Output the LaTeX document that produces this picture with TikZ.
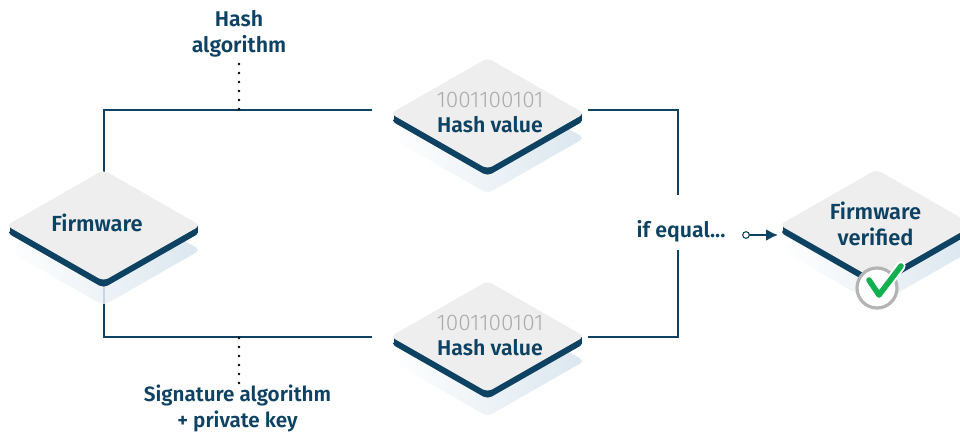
\documentclass[tikz,border=0pt]{standalone}
\usepackage{fontspec}
\setmainfont{Fira Sans}[UprightFont=* Medium,BoldFont=* SemiBold]
\newfontfamily\lightfont{Fira Sans}[UprightFont=* Light]
\usetikzlibrary{arrows.meta}
\definecolor{navy}{HTML}{0E4263}
\definecolor{face}{HTML}{EEEEEE}
\definecolor{shade}{HTML}{D5E2EC}
\definecolor{okgreen}{HTML}{12B04F}
\definecolor{ringgrey}{HTML}{B4B4B4}
\definecolor{digit}{HTML}{ABABAB}
\tikzset{
  x=0.75pt,y=-0.75pt,
  label text/.style={text=navy,font=\fontsize{16}{19.5}\selectfont\bfseries,align=center,inner sep=0pt},
  digits/.style={text=digit,font=\lightfont\fontsize{17}{18}\selectfont,inner sep=0pt},
  link/.style={draw=navy,line width=1.5pt},
  dots/.style={draw=black,line width=2.2pt,line cap=round,dash pattern=on 0pt off 6.75pt},
}
\newcommand{\diamondpath}{(-97,0) -- (0,-55.5) -- (97,0) -- (0,55.5) -- cycle}
\newcommand{\slab}[1]{%
  \begin{scope}[shift={(#1)}]
    \begin{scope}[shift={(0,24.5)}]
      \shade[rounded corners=3.75pt,left color=white,right color=shade,opacity=0.85] \diamondpath;
    \end{scope}
    \begin{scope}[shift={(0,7)}]
      \fill[navy,rounded corners=3.75pt] \diamondpath;
    \end{scope}
    \fill[navy] (-94,0) -- (-94,6) -- (94,6) -- (94,0) -- cycle;
    \fill[face,rounded corners=3.75pt] \diamondpath;
  \end{scope}}
\begin{document}
\begin{tikzpicture}
\useasboundingbox (0,0) rectangle (960,432);
\coordinate (fwtop) at (103.5,173);
\coordinate (fwbot) at (103.5,285);
\coordinate (tl) at (103.5,110);
\coordinate (h1l) at (372,110);
\coordinate (h1r) at (588,110);
\coordinate (tr) at (678,110);
\coordinate (eqt) at (678,195);
\coordinate (eqb) at (678,250);
\coordinate (br) at (678,337);
\coordinate (h2r) at (588,337);
\coordinate (h2l) at (372,337);
\coordinate (bl) at (103.5,337);
\coordinate (d1a) at (239,109);
\coordinate (d1b) at (239,63.5);
\coordinate (d2a) at (239,338);
\coordinate (d2b) at (239,383.5);
\coordinate (arrs) at (746,235);
\coordinate (arre) at (778,235);
\draw[link] (fwtop) -- (tl) -- (h1l);
\draw[link] (h1r) -- (tr) -- (eqt);
\draw[link] (eqb) -- (br) -- (h2r);
\draw[link] (h2l) -- (bl) -- (fwbot);
\draw[dots] (d1a) -- (d1b);
\draw[dots] (d2a) -- (d2b);
\slab{103.5,225.5}
\slab{487.5,113.5}
\slab{487.5,336.5}
\slab{876.5,225}
\node[label text,font=\fontsize{16.4}{19.5}\selectfont\bfseries] (fw) at (97,223) {Firmware};
\node[digits] (b1) at (490,100) {1001100101};
\node[label text] (h1) at (490,125) {Hash value};
\node[digits] (b2) at (490,323) {1001100101};
\node[label text] (h2) at (490,348) {Hash value};
\node[label text,font=\fontsize{16.4}{19.5}\selectfont\bfseries] (ver) at (875.5,224) {Firmware\\verified};
\node[label text] (alg) at (239,33.5) {Hash\\algorithm};
\node[label text,font=\fontsize{15.5}{19.5}\selectfont\bfseries] (sig) at (237.5,408) {Signature algorithm\\+ private key};
\node[label text] (eq) at (681,231) {if equal...};
\node[circle,draw=ringgrey,line width=2.4pt,fill=white,minimum size=30pt,inner sep=0pt] (ring) at (877,288) {};
\coordinate (c1) at (869,280);
\coordinate (c2) at (879,295);
\coordinate (c3) at (901,266);
\draw[white,line width=7pt,line cap=round,line join=round] (c2) -- (c3);
\draw[okgreen,line width=4.2pt,line cap=round,line join=round] (c1) -- (c2) -- (c3);
\draw[navy,line width=1.7pt,-{Latex[length=9pt,width=9pt]}] (arrs) -- (arre);
\node[circle,draw=navy,line width=0.8pt,fill=white,minimum size=5pt,inner sep=0pt] (dot) at (arrs) {};
\end{tikzpicture}
\end{document}
